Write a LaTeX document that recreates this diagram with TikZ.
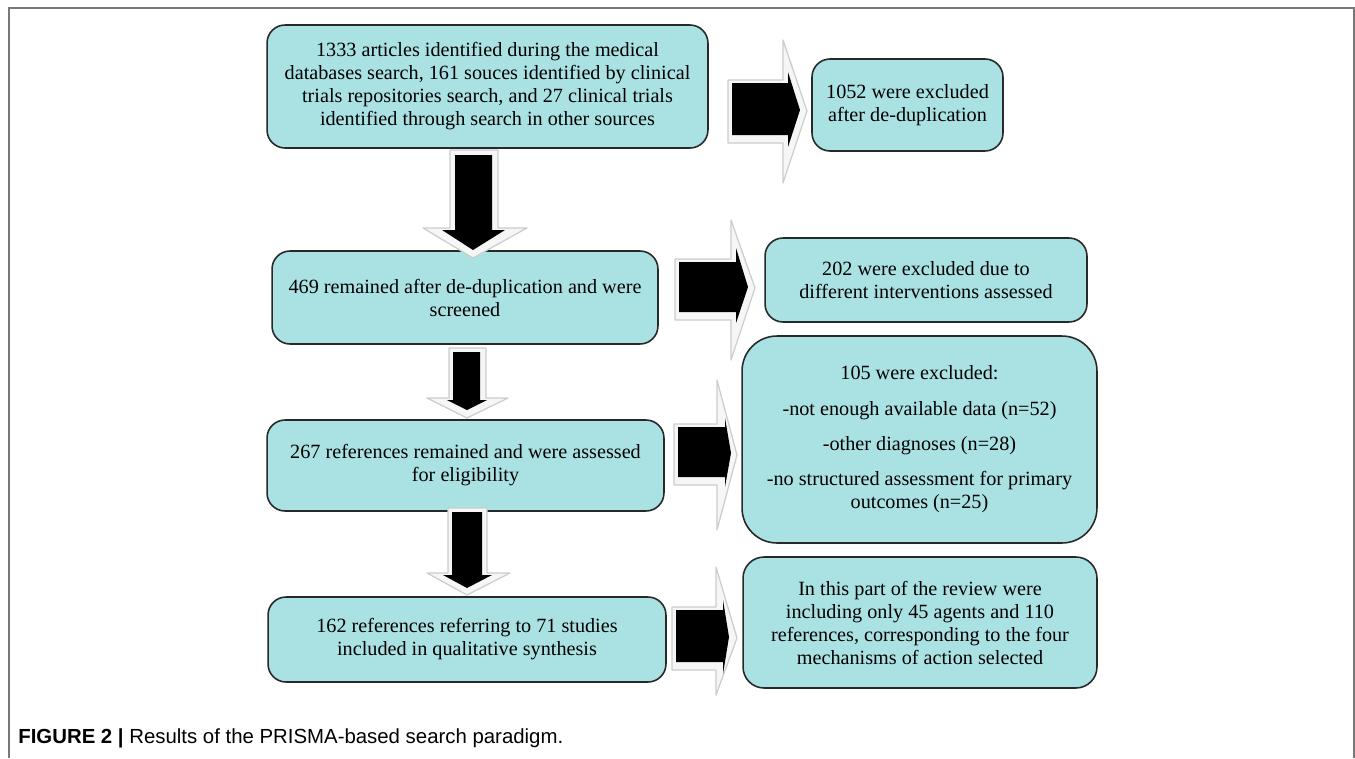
\documentclass[tikz,border=0pt]{standalone}
\usepackage{fontspec}
\setmainfont{Liberation Serif}
\newfontfamily\capfont{Liberation Sans}
\usepackage{tikz}

\definecolor{boxfill}{RGB}{170,226,228}
\definecolor{boxline}{RGB}{40,40,40}
\definecolor{framegray}{RGB}{120,120,120}

\begin{document}
\begin{tikzpicture}[x=0.02cm, y=-0.02cm,
	box/.style={draw=boxline, fill=boxfill, line width=0.9pt, rounded corners=0.36cm, align=center, inner sep=0pt, font=\fontsize{11.5}{13.1}\selectfont},
	bevel/.style={fill=gray!7, draw=gray!40, line width=0.7pt, line join=round},
	blk/.style={fill=black}]
		\useasboundingbox (0,0) rectangle (1355,758);
		\draw[framegray, line width=1.1pt] (9,758) -- (9,8) -- (1354,8) -- (1354,758);
		
		\node[box, minimum width=8.82cm, minimum height=2.46cm] (found) at (487.5, 86.5) {1333 articles identified during the medical\\databases search, 161 souces identified by clinical\\trials repositories search, and 27 clinical trials\\identified through search in other sources};
		\node[box, minimum width=3.82cm, minimum height=1.84cm] (dup) at (907.5, 105) {1052 were excluded\\after de-duplication};
		
		\node[box, minimum width=7.72cm, minimum height=1.86cm] (screen) at (465, 297.5) {469 remained after de-duplication and were\\screened};
		\node[box, minimum width=6.44cm, minimum height=1.68cm] (interv) at (926, 280) {202 were excluded due to\\different interventions assessed};
		
		\node[box, minimum width=7.94cm, minimum height=1.82cm] (elig) at (465.5, 465.5) {267 references remained and were assessed\\for eligibility};
		\node[box, rounded corners=0.7cm, minimum width=7.10cm, minimum height=4.14cm] (excl) at (919.5, 439.5) {105 were excluded:\\[7pt]-not enough available data (n=52)\\[7pt]-other diagnoses (n=28)\\[7pt]-no structured assessment for primary\\outcomes (n=25)};
		
		\node[box, minimum width=7.96cm, minimum height=1.70cm] (incl) at (467, 639.5) {162 references referring to 71 studies\\included in qualitative synthesis};
		\node[box, rounded corners=0.42cm, minimum width=7.08cm, minimum height=2.62cm] (part) at (920, 622.5) {In this part of the review were\\including only 45 agents and 110\\references, corresponding to the four\\mechanisms of action selected};
		
		% down arrows
		\draw[bevel] (450,150) -- (498,150) -- (498,228) -- (527,228) -- (473,258) -- (423,228) -- (450,228) -- cycle;
		\fill[blk] (455,155) -- (492,155) -- (492,230) -- (505,230) -- (473,250) -- (442,230) -- (455,230) -- cycle;
		
		\draw[bevel] (449,348) -- (486,348) -- (486,398) -- (508,398) -- (467,418) -- (427,398) -- (449,398) -- cycle;
		\fill[blk] (453,352) -- (480,352) -- (480,400) -- (487,400) -- (467,410) -- (447,400) -- (453,400) -- cycle;
		
		\draw[bevel] (448,508) -- (487,508) -- (487,573) -- (510,573) -- (467,595) -- (427,573) -- (448,573) -- cycle;
		\fill[blk] (452,512) -- (482,512) -- (482,575) -- (492,575) -- (467,588) -- (443,575) -- (452,575) -- cycle;
		
		% right arrows
		\draw[bevel] (728,80) -- (783,80) -- (783,40) -- (807,111) -- (783,183) -- (783,143) -- (728,143) -- cycle;
		\fill[blk] (732,83) -- (788,83) -- (788,72) -- (800,110) -- (788,147) -- (788,135) -- (732,135) -- cycle;
		
		\draw[bevel] (675,259) -- (731,259) -- (731,220) -- (755,288) -- (731,360) -- (731,320) -- (675,320) -- cycle;
		\fill[blk] (679,262) -- (736,262) -- (736,248) -- (748,287) -- (736,323) -- (736,312) -- (679,312) -- cycle;
		
		\draw[bevel] (674,424) -- (717,424) -- (717,380) -- (737,455) -- (717,530) -- (717,485) -- (674,485) -- cycle;
		\fill[blk] (678,427) -- (725,427) -- (725,418) -- (731,453) -- (725,487) -- (725,477) -- (678,477) -- cycle;
		
		\draw[bevel] (672,607) -- (716,607) -- (716,567) -- (737,638) -- (716,695) -- (716,670) -- (672,670) -- cycle;
		\fill[blk] (676,610) -- (723,610) -- (723,600) -- (729,637) -- (723,674) -- (723,662) -- (676,662) -- cycle;
		
		\node[anchor=west, inner sep=0pt, font=\capfont\fontsize{11.6}{13}\selectfont] (cap) at (18, 738) {\textbf{FIGURE 2 |} Results of the PRISMA-based search paradigm.};
	\end{tikzpicture}
\end{document}
